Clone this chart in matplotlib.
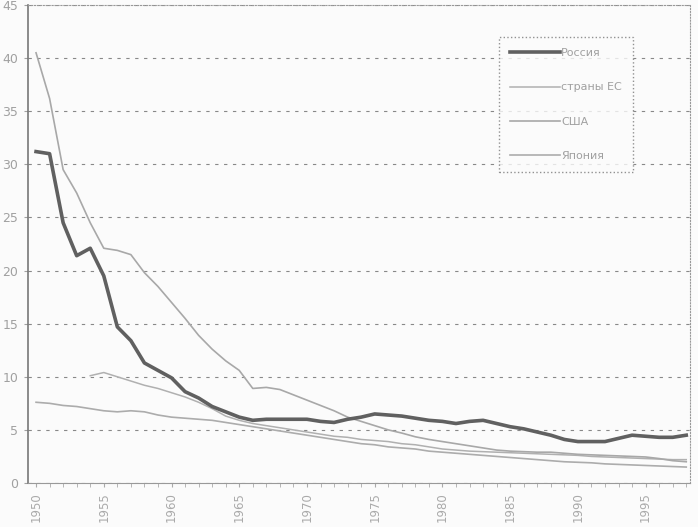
import matplotlib.pyplot as plt
import numpy as np

years = list(range(1950, 1999))

russia = [31.2, 31.0, 24.5, 21.4, 22.1, 19.5, 14.7, 13.4, 11.3, 10.6,
          9.9, 8.6, 8.0, 7.2, 6.7, 6.2, 5.9, 6.0, 6.0, 6.0,
          6.0, 5.8, 5.7, 6.0, 6.2, 6.5, 6.4, 6.3, 6.1, 5.9,
          5.8, 5.6, 5.8, 5.9, 5.6, 5.3, 5.1, 4.8, 4.5, 4.1,
          3.9, 3.9, 3.9, 4.2, 4.5, 4.4, 4.3, 4.3, 4.5]

eu_years = list(range(1954, 1999))
eu = [10.1, 10.4, 10.0, 9.6, 9.2, 8.9, 8.5, 8.1, 7.6, 7.0,
      6.3, 5.9, 5.6, 5.4, 5.2, 5.0, 4.8, 4.6, 4.4, 4.3,
      4.1, 4.0, 3.9, 3.7, 3.6, 3.4, 3.2, 3.1, 3.0, 2.95,
      2.9, 2.85, 2.8, 2.75, 2.7, 2.65, 2.6, 2.5, 2.45, 2.4,
      2.35, 2.3, 2.25, 2.2, 2.2]

usa = [40.5, 36.2, 29.5, 27.3, 24.5, 22.1, 21.9, 21.5, 19.8, 18.5,
       17.0, 15.5, 13.9, 12.6, 11.5, 10.6, 8.9, 9.0, 8.8, 8.3,
       7.8, 7.3, 6.8, 6.2, 5.8, 5.4, 5.0, 4.7, 4.35, 4.1,
       3.9, 3.7, 3.5, 3.3, 3.1, 3.0, 2.95, 2.9, 2.9, 2.8,
       2.7, 2.65, 2.6, 2.55, 2.5, 2.45, 2.3, 2.1, 2.0]

japan = [7.6, 7.5, 7.3, 7.2, 7.0, 6.8, 6.7, 6.8, 6.7, 6.4,
         6.2, 6.1, 6.0, 5.9, 5.7, 5.5, 5.3, 5.1, 4.9, 4.7,
         4.5, 4.3, 4.1, 3.9, 3.7, 3.6, 3.4, 3.3, 3.2, 3.0,
         2.9, 2.8, 2.7, 2.6, 2.5, 2.4, 2.3, 2.2, 2.1, 2.0,
         1.95, 1.9, 1.8, 1.75, 1.7, 1.65, 1.6, 1.55, 1.5]

labels = ["Россия", "страны ЕС", "США", "Япония"]
tick_years = list(range(1950, 1999, 5))

txt = "#a0a0a0"

fig = plt.figure(figsize=(6.98, 5.27), dpi=100, facecolor="#fbfbfb")
ax = fig.add_axes([0.040, 0.0835, 0.949, 0.907])
ax.set_facecolor("#fbfbfb")

ax.plot(years, russia, color="#606060", lw=2.6, label=labels[0], zorder=5)
ax.plot(eu_years, eu, color="#b0b0b0", lw=1.1, label=labels[1])
ax.plot(years, usa, color="#a8a8a8", lw=1.2, label=labels[2])
ax.plot(years, japan, color="#acacac", lw=1.2, label=labels[3])

ax.set_xlim(1949.4, 1998.3)
ax.set_ylim(0, 45)
ax.set_yticks(range(0, 46, 5))
ax.set_xticks(tick_years)
ax.set_xticks(years, minor=True)
ax.set_xticklabels([str(y) for y in tick_years], rotation=90, color=txt, fontsize=8.5)
ax.tick_params(axis="y", colors=txt, labelsize=9, length=3, pad=4)
ax.tick_params(axis="x", which="both", colors="#aaaaaa", length=3)

ax.grid(axis="y", color="#888888", ls=(0, (3, 5)), lw=0.8)
for s in ["top", "right"]:
    ax.spines[s].set_color("#999999")
    ax.spines[s].set_linestyle(":")
ax.spines["left"].set_color("#777777")
ax.spines["left"].set_linewidth(1.2)
ax.spines["bottom"].set_color("#999999")

leg = ax.legend(loc="upper left", bbox_to_anchor=(0.703, 0.945), frameon=True,
                fancybox=False, labelspacing=2.2, handlelength=4.5,
                fontsize=8, borderpad=1.0, handletextpad=0.1)
leg.get_frame().set_edgecolor("#777777")
leg.get_frame().set_linestyle(":")
leg.get_frame().set_facecolor("#fbfbfb")
for t in leg.get_texts():
    t.set_color(txt)

fig.savefig("out.png", dpi=100, facecolor=fig.get_facecolor())
